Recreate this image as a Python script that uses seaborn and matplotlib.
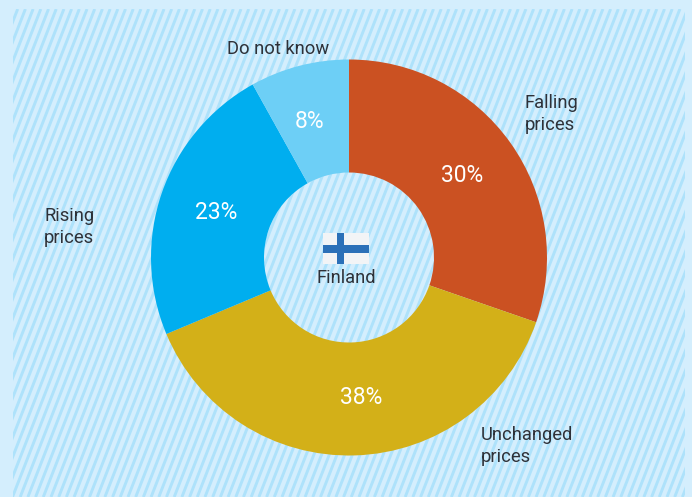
import numpy as np
import matplotlib
matplotlib.use("Agg")
import matplotlib.pyplot as plt
from matplotlib.patches import Rectangle
import seaborn as sns

categories = ["Falling\nprices", "Unchanged\nprices", "Rising\nprices", "Do not know"]
shares = [30, 38, 23, 8]
share_labels = ["30%", "38%", "23%", "8%"]
slice_colors = ["#CB5122", "#D3B018", "#00AEEF", "#6DCFF6"]
country = "Finland"

sns.set_theme(style="white", palette=sns.color_palette(slice_colors))
plt.rcParams["font.family"] = ["Roboto", "DejaVu Sans"]

W, H = 692, 497
fig = plt.figure(figsize=(W / 100, H / 100), dpi=100, facecolor="#D4EEFD")
ax = fig.add_axes([0, 0, 1, 1])
ax.set_xlim(0, W)
ax.set_ylim(H, 0)
ax.axis("off")

# diagonal stripes in the panel background
panel = Rectangle((13, 9), 672, 488, fc="#D4EEFD", ec="none", zorder=0)
ax.add_patch(panel)
for x0 in np.arange(-180, 880, 7.7):
    stripe, = ax.plot([x0, x0 + 190], [497, 9], color="#AEE2FB", lw=2.1,
                      solid_capstyle="butt", zorder=1)
    stripe.set_clip_path(panel)

# the donut, clockwise from twelve o'clock
cx, cy, outer, hole = 349, 257.5, 198, 85
ax_pie = fig.add_axes([(cx - outer) / W, 1 - (cy + outer) / H, 2 * outer / W, 2 * outer / H])
ax_pie.patch.set_alpha(0)
wedges, _ = ax_pie.pie(shares, colors=sns.color_palette(), startangle=90, counterclock=False,
                       radius=1, wedgeprops={"width": 1 - hole / outer, "linewidth": 0})
ax_pie.set_xlim(-1, 1)
ax_pie.set_ylim(-1, 1)

# everything drawn over the ring shares one pixel-scaled layer
overlay = fig.add_axes([0, 0, 1, 1])
overlay.set_xlim(0, W)
overlay.set_ylim(H, 0)
overlay.axis("off")

# percentages inside the ring
value_pos = [(462, 175.5), (361, 397), (216, 212.5), (310, 121)]
for (x, y), text in zip(value_pos, share_labels):
    overlay.text(x, y, text, color="white", fontsize=16.5, ha="center", va="center")

# category names around the ring
name_pos = [(525, 114), (481, 446), (44, 227), (227, 48.5)]
for (x, y), text in zip(name_pos, categories):
    overlay.text(x, y, text, color="#2E3138", fontsize=13.2, ha="left", va="center",
                 linespacing=1.28)

# national flag above the country name
overlay.add_patch(Rectangle((323, 233), 46, 31, fc="#F2F4F6", ec="none"))
overlay.add_patch(Rectangle((323, 245), 46, 7.5, fc="#2B70B8", ec="none"))
overlay.add_patch(Rectangle((336.5, 233), 7.5, 31, fc="#2B70B8", ec="none"))
overlay.text(346, 278, country, color="#2E3138", fontsize=13.2, ha="center", va="center")

fig.savefig("out.png", dpi=100, facecolor=fig.get_facecolor())
